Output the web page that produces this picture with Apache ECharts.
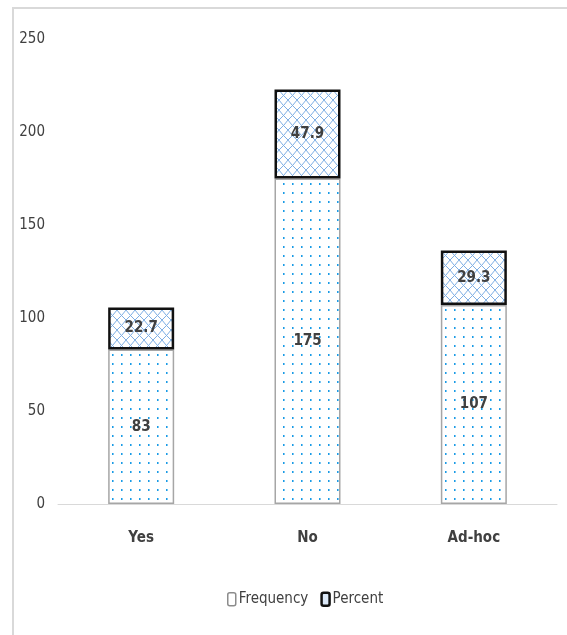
<!DOCTYPE html>
<html>
<head>
<meta charset="utf-8">
<script src="https://cdn.jsdelivr.net/npm/echarts@6/dist/echarts.min.js"></script>
<style>
  html, body { margin: 0; padding: 0; background: #fff; }
  #chart { width: 567px; height: 635px; }
</style>
</head>
<body>
<div id="chart"></div>
<script>
// Categories and stacked values
const categories = ['Yes', 'No', 'Ad-hoc'];
const frequency = [83, 175, 107];
const percent = [22.7, 47.9, 29.3];
const yTicks = { min: 0, max: 250, interval: 50 };

const FONT = '"DejaVu Sans Condensed", "Liberation Sans Narrow", "Liberation Sans", sans-serif';
const TEXT = '#404040';
const SIZE = 15;

// Dotted fill for the frequency segments
function dotTile() {
  const c = document.createElement('canvas');
  c.width = 9; c.height = 9;
  const g = c.getContext('2d');
  g.fillStyle = '#fff';
  g.fillRect(0, 0, 9, 9);
  g.fillStyle = '#1a9be6';
  g.fillRect(4, 3, 1, 2);
  g.fillStyle = '#7cc6f0';
  g.fillRect(5, 3, 1, 2);
  return c;
}

// Diamond lattice fill for the percent segments
function latticeTile() {
  const c = document.createElement('canvas');
  c.width = 9; c.height = 10;
  const g = c.getContext('2d');
  g.fillStyle = '#fff';
  g.fillRect(0, 0, 9, 10);
  g.strokeStyle = '#7eaee4';
  g.lineWidth = 1;
  g.beginPath();
  g.moveTo(0, 0); g.quadraticCurveTo(3.5, 5, 9, 10);
  g.moveTo(9, 0); g.quadraticCurveTo(5.5, 5, 0, 10);
  g.stroke();
  return c;
}

const chart = echarts.init(document.getElementById('chart'), null, { renderer: 'canvas' });

chart.setOption({
  animation: false,
  backgroundColor: '#fff',
  graphic: [{
    type: 'rect',
    shape: { x: 13, y: 8, width: 600, height: 700 },
    style: { fill: 'none', stroke: '#d9d9d9', lineWidth: 2 },
    silent: true
  }],
  grid: { left: 58, right: 10, top: 39, bottom: 131, containLabel: false },
  xAxis: {
    type: 'category',
    data: categories,
    axisLine: { lineStyle: { color: '#d9d9d9', width: 1 } },
    axisTick: { show: false },
    axisLabel: { color: TEXT, fontFamily: FONT, fontSize: SIZE, fontWeight: 'bold', margin: 27 }
  },
  yAxis: {
    type: 'value',
    min: yTicks.min, max: yTicks.max, interval: yTicks.interval,
    splitLine: { show: false },
    axisLine: { show: false },
    axisTick: { show: false },
    axisLabel: { color: TEXT, fontFamily: FONT, fontSize: SIZE, margin: 13 }
  },
  legend: {
    data: [
      { name: 'Frequency', itemStyle: { color: '#fff', borderColor: '#8c8c8c', borderWidth: 1.5 } },
      { name: 'Percent', itemStyle: { color: '#dbe8f7', borderColor: '#111', borderWidth: 2.5 } }
    ],
    bottom: 23,
    left: 222,
    itemWidth: 8,
    itemHeight: 13,
    itemGap: 12,
    textStyle: { color: TEXT, fontFamily: FONT, fontSize: SIZE, padding: [0, 0, 0, -2] }
  },
  series: [
    {
      name: 'Frequency',
      type: 'bar',
      stack: 'total',
      barWidth: 66,
      data: frequency,
      itemStyle: {
        color: { image: dotTile(), repeat: 'repeat' },
        borderColor: '#a6a6a6',
        borderWidth: 1.5
      },
      label: {
        show: true, position: 'inside', color: TEXT,
        fontFamily: FONT, fontSize: SIZE, fontWeight: 'bold'
      }
    },
    {
      name: 'Percent',
      type: 'bar',
      stack: 'total',
      barWidth: 66,
      data: percent,
      itemStyle: {
        color: { image: latticeTile(), repeat: 'repeat' },
        borderColor: '#111',
        borderWidth: 2.5
      },
      label: {
        show: true, position: 'inside', color: TEXT,
        fontFamily: FONT, fontSize: SIZE, fontWeight: 'bold'
      }
    }
  ]
});
</script>
</body>
</html>
